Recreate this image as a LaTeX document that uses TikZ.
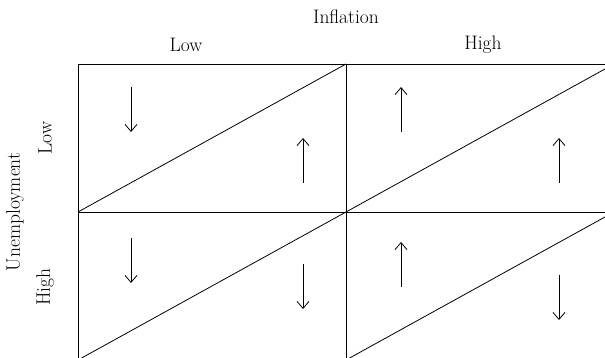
\documentclass[tikz,border=0pt]{standalone}
\usetikzlibrary{arrows.meta}

% (x, y_start, y_end)
\newcommand{\cellarrow}[3]{
    \draw[flow] (#1,#2) -- (#1,#3);
}

\begin{document}
\begin{tikzpicture}[x=1pt, y=-1pt, line width=0.8pt,
    flow/.style={-{Straight Barb[length=7pt,width=12pt]}},
    lbl/.style={font=\fontsize{19.5}{22}\selectfont}]

  \useasboundingbox (0,0) rectangle (605,358);

  \begin{scope}
    \clip (0,0) rectangle (605,358);
    \draw (78,64) rectangle (614,360);
    \draw (346,64) -- (346,360);
    \draw (78,212) -- (614,212);
    % diagonals
    \draw (78,212) -- (346,64);
    \draw (346,212) -- (614,64);
    \draw (78,360) -- (346,212);
    \draw (346,360) -- (614,212);
  \end{scope}

  \cellarrow{131}{87}{132}
  \cellarrow{303}{183}{138}
  \cellarrow{401}{132}{87}
  \cellarrow{559}{183}{138}
  \cellarrow{131}{238}{283}
  \cellarrow{303}{264}{309}
  \cellarrow{401}{287}{242}
  \cellarrow{559}{275}{320}

  \node[lbl] (inflation) at (346,17) {Inflation};
  \node[lbl] (inflow) at (186,45) {Low};
  \node[lbl] (infhigh) at (483,45) {High};

  \node[lbl, rotate=90] (unemp) at (15,212) {Unemployment};
  \node[lbl, rotate=90] (unlow) at (45,138) {Low};
  \node[lbl, rotate=90] (unhigh) at (45,287) {High};

\end{tikzpicture}
\end{document}
